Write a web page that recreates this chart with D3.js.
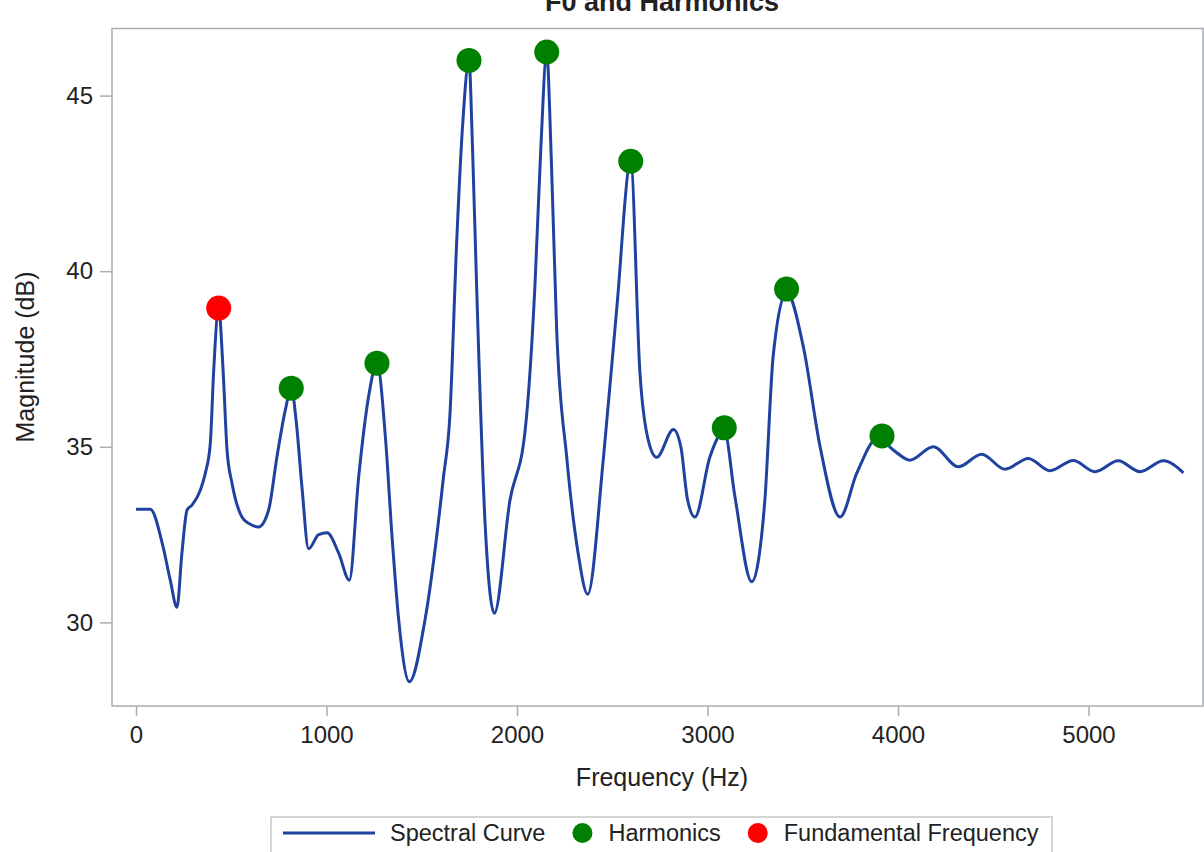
<!DOCTYPE html>
<html>
<head>
<meta charset="utf-8">
<script src="https://cdn.jsdelivr.net/npm/d3@7"></script>
<style>
  html, body { margin: 0; padding: 0; background: #fff; }
  #chart { width: 1204px; height: 852px; overflow: hidden; }
  text { font-family: "Liberation Sans", Arial, sans-serif; fill: #222; }
</style>
</head>
<body>
<div id="chart"></div>
<script>
// spectral curve (Hz, dB)
const freq = [
  0, 75, 140, 180, 215, 241, 268, 294, 338, 364, 390, 408, 434, 457, 478, 504,
  556, 592, 644, 696, 740, 784, 815, 842, 871, 906, 959, 1003, 1064, 1120,
  1169, 1221, 1265, 1309, 1344, 1379, 1435, 1517, 1613, 1648, 1683, 1715,
  1748, 1766, 1788, 1832, 1881, 1963, 2042, 2094, 2125, 2156, 2180, 2208,
  2261, 2320, 2371, 2454, 2524, 2597, 2645, 2689, 2733, 2821, 2860, 2895,
  2934, 3013, 3088, 3144, 3232, 3300, 3345, 3415, 3503, 3591, 3696, 3783,
  3895, 3975, 4063, 4185, 4317, 4439, 4562, 4684, 4798, 4920, 5034, 5156,
  5270, 5393, 5498
];
const magnitude = [
  33.22, 33.22, 32.2, 31.2, 30.43, 31.97, 33.2, 33.34, 33.77, 34.25, 35.1,
  37.19, 38.95, 37.19, 34.9, 33.96, 33.0, 32.82, 32.72, 33.2, 34.72, 36.05,
  36.67, 35.67, 33.86, 32.1, 32.5, 32.55, 31.97, 31.2, 34.15, 36.43, 37.38,
  35.29, 32.44, 30.07, 28.31, 30.07, 34.09, 35.92, 40.79, 44.2, 45.98, 43.6,
  39.57, 32.87, 30.26, 33.48, 35.43, 39.57, 43.5, 46.2, 43.2, 38.36, 34.7,
  32.0, 30.8, 34.7, 38.96, 43.1, 37.13, 35.19, 34.7, 35.49, 35.0, 33.5,
  33.0, 34.72, 35.45, 33.58, 31.16, 33.4, 37.6, 39.4, 37.85, 35.0, 33.0,
  34.24, 35.25, 34.91, 34.62, 35.0, 34.43, 34.79, 34.36, 34.67, 34.32, 34.61,
  34.29, 34.6, 34.29, 34.6, 34.26
];
const harmonicFreq = [815, 1265, 1748, 2156, 2597, 3088, 3415, 3916];
const harmonicMag = [36.67, 37.38, 46.0, 46.24, 43.13, 35.54, 39.49, 35.31];
const f0Freq = [434];
const f0Mag = [38.95];
const xTicks = [0, 1000, 2000, 3000, 4000, 5000];
const yTicks = [30, 35, 40, 45];
const legendItems = ["Spectral Curve", "Harmonics", "Fundamental Frequency"];

const colors = { curve: "#1f42a0", harmonic: "#008000", f0: "#ff0000", frame: "#a8adb2" };
const width = 1204;
const height = 852;
const plot = { left: 112, right: 1203, top: 28.5, bottom: 706 };

const svg = d3.select("#chart").append("svg")
  .attr("width", width)
  .attr("height", height)
  .attr("viewBox", [0, 0, width, height]);

const x = d3.scaleLinear().domain([-126, 5601]).range([plot.left, plot.right]);
const y = d3.scaleLinear().domain([27.62, 46.91]).range([plot.bottom, plot.top]);

// title, mostly cut off at the top edge (as in the source)
svg.append("text")
  .attr("x", 662).attr("y", 11)
  .attr("text-anchor", "middle")
  .style("font-size", "27px").style("font-weight", "bold")
  .text("F0 and Harmonics");

// axes
const xAxis = svg.append("g")
  .attr("transform", `translate(0,${plot.bottom})`)
  .call(d3.axisBottom(x).tickValues(xTicks).tickSize(10).tickPadding(10).tickFormat(d3.format("d")));
const yAxis = svg.append("g")
  .attr("transform", `translate(${plot.left},0)`)
  .call(d3.axisLeft(y).tickValues(yTicks).tickSize(12).tickPadding(7));
[xAxis, yAxis].forEach((g) => {
  g.select(".domain").remove();
  g.selectAll("line").attr("stroke", colors.frame).attr("stroke-width", 1.5);
  g.selectAll("text").style("font-size", "24px").attr("fill", "#222")
    .style("font-family", '"Liberation Sans", Arial, sans-serif');
});

svg.append("rect")
  .attr("x", plot.left).attr("y", plot.top)
  .attr("width", plot.right - plot.left).attr("height", plot.bottom - plot.top)
  .attr("fill", "none").attr("stroke", colors.frame).attr("stroke-width", 1.5);

svg.append("text")
  .attr("x", 662).attr("y", 786)
  .attr("text-anchor", "middle")
  .style("font-size", "25px")
  .text("Frequency (Hz)");
svg.append("text")
  .attr("transform", "translate(34,357) rotate(-90)")
  .attr("text-anchor", "middle")
  .style("font-size", "25px")
  .text("Magnitude (dB)");

// curve
const points = freq.map((f, i) => [f, magnitude[i]]);
const line = d3.line().x((d) => x(d[0])).y((d) => y(d[1])).curve(d3.curveMonotoneX);
svg.append("path")
  .datum(points)
  .attr("d", line)
  .attr("fill", "none")
  .attr("stroke", colors.curve)
  .attr("stroke-width", 3)
  .attr("stroke-linejoin", "round");

// markers
svg.selectAll(".harmonic")
  .data(harmonicFreq.map((f, i) => [f, harmonicMag[i]]))
  .join("circle")
  .classed("harmonic", true)
  .attr("cx", (d) => x(d[0])).attr("cy", (d) => y(d[1]))
  .attr("r", 12.5)
  .attr("fill", colors.harmonic);
svg.selectAll(".f0")
  .data(f0Freq.map((f, i) => [f, f0Mag[i]]))
  .join("circle")
  .classed("f0", true)
  .attr("cx", (d) => x(d[0])).attr("cy", (d) => y(d[1]))
  .attr("r", 12.5)
  .attr("fill", colors.f0);

// legend
const legend = svg.append("g");
legend.append("rect")
  .attr("x", 271).attr("y", 817)
  .attr("width", 781).attr("height", 60)
  .attr("fill", "#fff").attr("stroke", "#c8c8c8").attr("stroke-width", 1.5);
const ly = 833;
let lx = 283;
legend.append("line")
  .attr("x1", lx).attr("x2", lx + 92).attr("y1", ly).attr("y2", ly)
  .attr("stroke", colors.curve).attr("stroke-width", 3);
lx += 92 + 15;
const swatches = [null, colors.harmonic, colors.f0];
legendItems.forEach((label, i) => {
  if (swatches[i]) {
    lx += 37;
    legend.append("circle").attr("cx", lx).attr("cy", ly).attr("r", 10).attr("fill", swatches[i]);
    lx += 26;
  }
  const t = legend.append("text")
    .attr("x", lx).attr("y", ly + 8)
    .style("font-size", "23.5px")
    .text(label);
  lx += t.node().getComputedTextLength();
});
</script>
</body>
</html>
